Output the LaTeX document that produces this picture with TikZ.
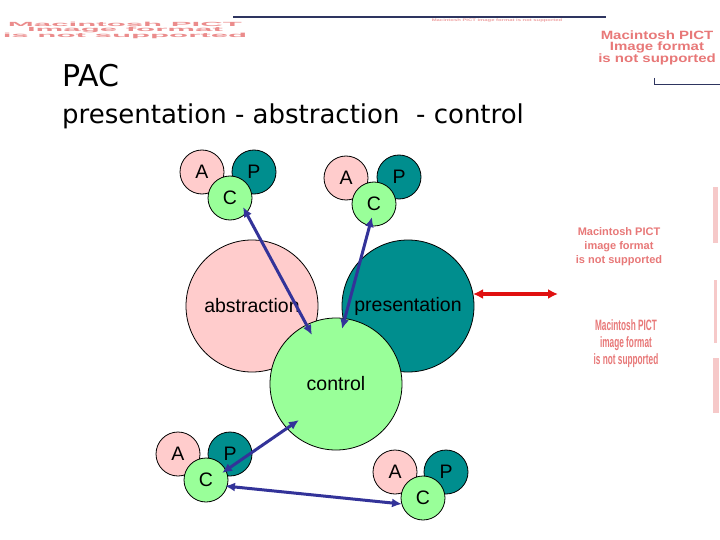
\documentclass[tikz,border=0pt]{standalone}
\usepackage{fontspec}
\usepackage{graphicx}
\setmainfont{Liberation Sans}
\newfontfamily\titlefont{DejaVu Sans}
\usetikzlibrary{arrows.meta}
\definecolor{pinkfill}{HTML}{FFCCCC}
\definecolor{tealfill}{HTML}{008E8E}
\definecolor{greenfill}{HTML}{99FF99}
\definecolor{navyarrow}{HTML}{333399}
\definecolor{redarrow}{HTML}{E01010}
\definecolor{pictred}{HTML}{E87878}
\definecolor{rulecol}{HTML}{2E3560}
\begin{document}
\begin{tikzpicture}[x=1pt,y=-1pt,
  bigc/.style={circle, draw=black, line width=0.8pt, minimum size=132pt, inner sep=0pt, font=\fontsize{19.5}{22}\selectfont},
  smallc/.style={circle, draw=black, line width=0.8pt, minimum size=44pt, inner sep=0pt, font=\fontsize{19.5}{22}\selectfont},
  absc/.style={fill=pinkfill},
  presc/.style={fill=tealfill},
  ctrlc/.style={fill=greenfill},
  link/.style={navyarrow, line width=3pt, {Latex[length=10pt,width=9pt]}-{Latex[length=10pt,width=9pt]}},
  redlink/.style={redarrow, line width=4pt, {Latex[length=10pt,width=10pt]}-{Latex[length=10pt,width=10pt]}},
  pict/.style={pictred, inner sep=0pt, align=center},
  titletext/.style={inner sep=0pt, anchor=base west}
]
\useasboundingbox (0,0) rectangle (720,540);
\fill[white] (0,0) rectangle (720,540);

% placeholder remnants
\begin{scope}
\clip (0,22) rectangle (260,45);
\node[pict, text=pictred!85, font=\bfseries\fontsize{12}{5.2}\selectfont] (pictTL) at (125,30.5)
  {\scalebox{2.6}[0.5]{Macintosh PICT}\\\scalebox{2.6}[0.5]{Image format}\\\scalebox{2.6}[0.5]{is not supported}};
\end{scope}
\draw[rulecol, line width=2pt] (233,17.5) -- (606,17.5);
\node[pict, text=pictred!70, font=\bfseries\fontsize{12}{12}\selectfont] (pictTM) at (497,20.5)
  {\scalebox{0.49}[0.3]{Macintosh PICT image format is not supported}};
\node[pict, font=\bfseries\fontsize{12}{11}\selectfont] (pictTR) at (657,48)
  {\scalebox{1.25}[1]{Macintosh PICT}\\\scalebox{1.25}[1]{Image format}\\\scalebox{1.25}[1]{is not supported}};
\draw[rulecol, line width=0.8pt] (654,78) -- (654,84) -- (720,84);
\node[pict, font=\bfseries\fontsize{11}{14}\selectfont] (pictM1) at (619,247)
  {Macintosh PICT\\image format\\is not supported};
\node[pict, font=\bfseries\fontsize{15}{17}\selectfont] (pictM2) at (626,344)
  {\scalebox{0.55}[1]{Macintosh PICT}\\\scalebox{0.55}[1]{image format}\\\scalebox{0.55}[1]{is not supported}};
\fill[pictred!40] (713,187) rectangle (718,243);
\fill[pictred!40] (714,280) rectangle (717,343);
\fill[pictred!40] (713,358) rectangle (719,413);

% titles
\node[titletext, font=\titlefont\fontsize{30}{34}\selectfont] (pac) at (62,87) {PAC};
\node[titletext, font=\titlefont\fontsize{26}{30}\selectfont] (sub) at (62,124) {presentation - abstraction\ \ - control};

% big circles
\node[bigc, absc] (abstr) at (252,306) {abstraction};
\node[bigc, presc] (pres) at (408,306) {presentation};
\node[bigc, ctrlc] (ctl) at (336,384) {control};

% triad 1
\node[smallc, absc] (a1) at (202,172) {A};
\node[smallc, presc] (p1) at (254,172) {P};
\node[smallc, ctrlc] (c1) at (230,198) {C};
% triad 2
\node[smallc, absc] (a2) at (346,178) {A};
\node[smallc, presc] (p2) at (399,177) {P};
\node[smallc, ctrlc] (c2) at (374,204) {C};
% triad 3
\node[smallc, absc] (a3) at (178,454) {A};
\node[smallc, presc] (p3) at (230,454) {P};
\node[smallc, ctrlc] (c3) at (206,480) {C};
% triad 4
\node[smallc, absc] (a4) at (395,472) {A};
\node[smallc, presc] (p4) at (446,472) {P};
\node[smallc, ctrlc] (c4) at (423,498) {C};

% arrow end points
\coordinate (e1a) at (243,207);
\coordinate (e1b) at (312,335);
\coordinate (e2a) at (372,217);
\coordinate (e2b) at (342,329);
\coordinate (e3a) at (299,420);
\coordinate (e3b) at (222,473);
\coordinate (e4a) at (225,486);
\coordinate (e4b) at (402,504);
\coordinate (r1) at (473,294);
\coordinate (r2) at (558,294);

\draw[link] (e1a) -- (e1b);
\draw[link] (e2a) -- (e2b);
\draw[link] (e3a) -- (e3b);
\draw[link] (e4a) -- (e4b);
\draw[redlink] (r1) -- (r2);
\end{tikzpicture}
\end{document}
